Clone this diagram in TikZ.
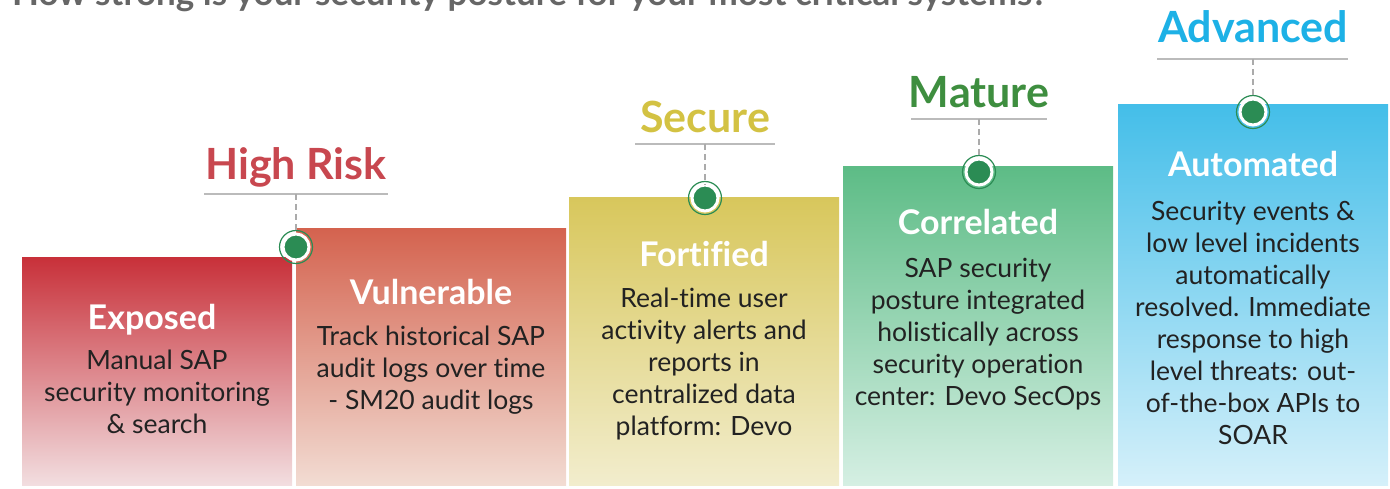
\documentclass[tikz,border=0pt]{standalone}
\usepackage{fontspec}
\setmainfont[Ligatures=NoCommon]{Lato}
\definecolor{hdrRed}{HTML}{C8474F}
\definecolor{hdrYellow}{HTML}{D3C243}
\definecolor{hdrGreen}{HTML}{3E8E3F}
\definecolor{hdrBlue}{HTML}{1DB1E6}
\definecolor{dotGreen}{HTML}{2B8C54}
\definecolor{lineGray}{HTML}{BBBBBB}
\definecolor{dashGray}{HTML}{ABABAB}
\definecolor{bodyText}{HTML}{222222}
\definecolor{qGray}{HTML}{666666}
\definecolor{aTop}{HTML}{C8313A}\definecolor{aBot}{HTML}{F2DEE0}
\definecolor{bTop}{HTML}{D4634F}\definecolor{bBot}{HTML}{F2DCD3}
\definecolor{cTop}{HTML}{D8C75C}\definecolor{cBot}{HTML}{F2EDCD}
\definecolor{dTop}{HTML}{5DBC86}\definecolor{dBot}{HTML}{D5EFE3}
\definecolor{eTop}{HTML}{44BEE9}\definecolor{eBot}{HTML}{D5F0FA}
\begin{document}
\begin{tikzpicture}[x=1pt,y=1pt,
  stagebox/.style={inner sep=0pt, outer sep=0pt, anchor=south west, minimum width=270pt},
  stagetitle/.style={anchor=base, inner sep=0pt, text=white, font=\fontsize{34}{40}\selectfont\bfseries},
  stagebody/.style={anchor=north, inner sep=0pt, align=center, text=bodyText, font=\fontsize{26.5}{32}\selectfont},
  header/.style={anchor=base, inner sep=0pt, font=\fontsize{43}{48}\selectfont\bfseries},
  underline/.style={draw=lineGray, line width=2pt},
  connector/.style={draw=dashGray, line width=2.8pt, dash pattern=on 6pt off 4pt},
  dot/.style={circle, inner sep=0pt, minimum size=26pt, fill=dotGreen, draw=white, line width=3pt,
    append after command={\pgfextra{\draw[dotGreen, line width=1.2pt] (\tikzlastnode.center) circle (16.5pt);}}}
]
\useasboundingbox (0,0) rectangle (1390,488);
\clip (0,0) rectangle (1390,488);

% question line (cut off at the top, as in the reference)
\node[anchor=base west, inner sep=0pt, text=qGray, font=\fontsize{35}{40}\selectfont\bfseries] (question) at (12,482)
  {How strong is your security posture for your most critical systems?};

% stage boxes
\node[stagebox, minimum height=227pt, top color=aTop, bottom color=aBot] (boxA) at (22,3) {};
\node[stagebox, minimum height=256pt, top color=bTop, bottom color=bBot] (boxB) at (296,3) {};
\node[stagebox, minimum height=287pt, top color=cTop, bottom color=cBot] (boxC) at (569,3) {};
\node[stagebox, minimum height=318pt, top color=dTop, bottom color=dBot] (boxD) at (843,3) {};
\node[stagebox, minimum height=380pt, top color=eTop, bottom color=eBot] (boxE) at (1118,3) {};

% titles
\node[stagetitle] (tA) at (152,159) {Exposed};
\node[stagetitle] (tB) at (431,183) {Vulnerable};
\node[stagetitle] (tC) at (704,221) {Fortified};
\node[stagetitle] (tD) at (978,253) {Correlated};
\node[stagetitle] (tE) at (1253,311) {Automated};

% bodies
\node[stagebody] (bA) at (157,141.4) {\strut Manual SAP\\security monitoring\\\& search};
\node[stagebody] (bB) at (431,165.4) {\strut Track historical SAP\\audit logs over time\\- SM20 audit logs};
\node[stagebody] (bC) at (704,203.4) {\strut Real-time user\\activity alerts and\\reports in\\centralized data\\platform: Devo};
\node[stagebody] (bD) at (978,233.4) {\strut SAP security\\posture integrated\\holistically across\\security operation\\center: Devo SecOps};
\node[stagebody] (bE) at (1253,290.4) {\strut Security events \&\\low level incidents\\automatically\\resolved. Immediate\\response to high\\level threats: out-\\of-the-box APIs to\\SOAR};

% headers
\node[header, text=hdrRed] (hA) at (296,308) {High Risk};
\node[header, text=hdrYellow] (hC) at (705,355) {Secure};
\node[header, text=hdrGreen] (hD) at (979,380) {Mature};
\node[header, text=hdrBlue] (hE) at (1253,445) {Advanced};

% underlines
\coordinate (uAl) at (204,294); \coordinate (uAr) at (388,294); \coordinate (uA) at (296,294);
\coordinate (uCl) at (635,344); \coordinate (uCr) at (775,344); \coordinate (uC) at (705,344);
\coordinate (uDl) at (911,369); \coordinate (uDr) at (1047,369); \coordinate (uD) at (979,369);
\coordinate (uEl) at (1157,429); \coordinate (uEr) at (1348,429); \coordinate (uE) at (1253,429);
\draw[underline] (uAl) -- (uAr);
\draw[underline] (uCl) -- (uCr);
\draw[underline] (uDl) -- (uDr);
\draw[underline] (uEl) -- (uEr);

% dots
\node[dot] (dA) at (296,241) {};
\node[dot] (dC) at (705,290) {};
\node[dot] (dD) at (979,316) {};
\node[dot] (dE) at (1253,376) {};

% connectors
\draw[connector] (uA) -- ([yshift=-1pt]dA.north);
\draw[connector] (uC) -- ([yshift=-1pt]dC.north);
\draw[connector] (uD) -- ([yshift=-1pt]dD.north);
\draw[connector] (uE) -- ([yshift=-1pt]dE.north);
\end{tikzpicture}
\end{document}
